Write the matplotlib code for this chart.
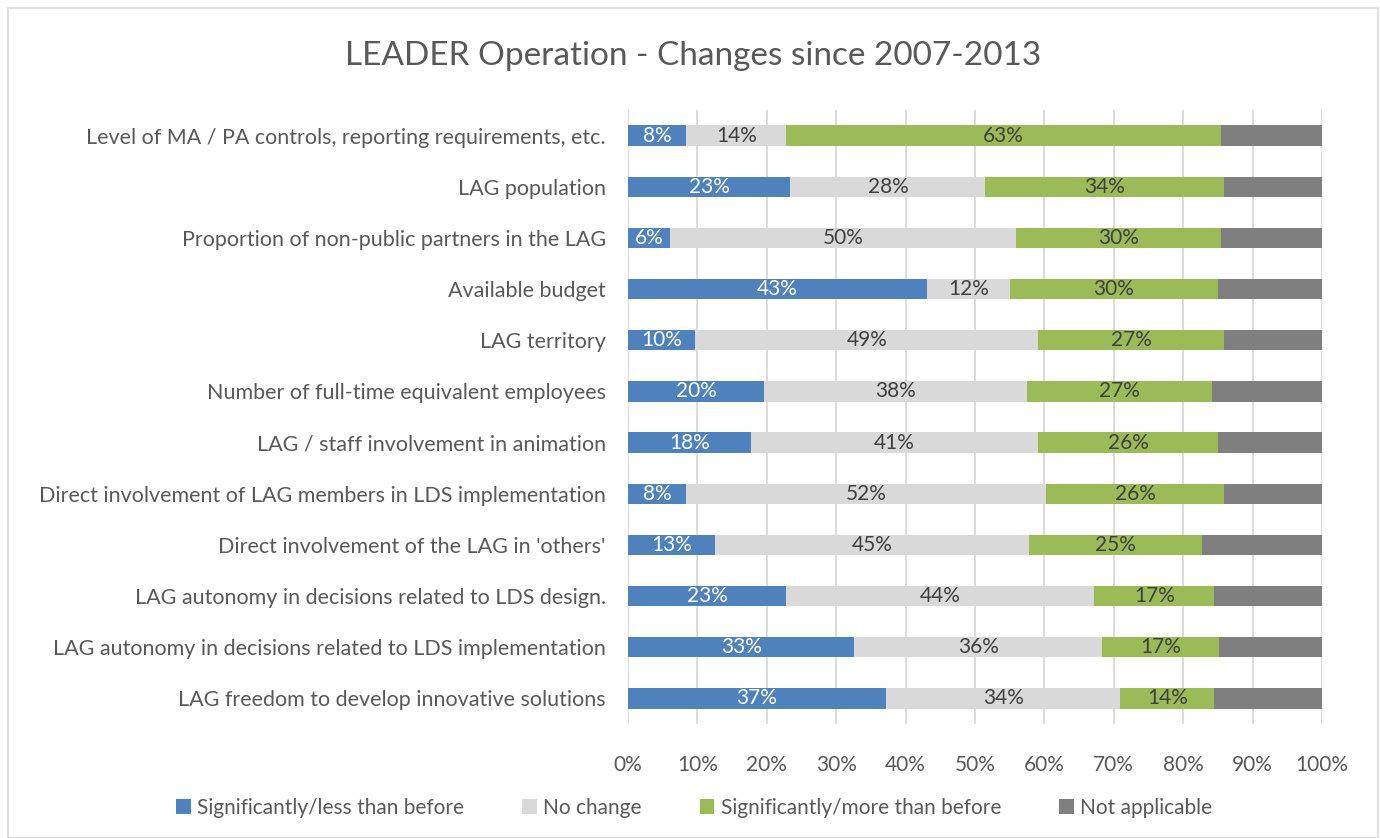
import numpy as np
import matplotlib.pyplot as plt
from matplotlib.patches import Rectangle

plt.rcParams['font.family'] = ['Lato', 'DejaVu Sans']

categories = [
    'Level of MA / PA controls, reporting requirements, etc.',
    'LAG population',
    'Proportion of non-public partners in the LAG',
    'Available budget',
    'LAG territory',
    'Number of full-time equivalent employees',
    'LAG / staff involvement in animation',
    'Direct involvement of LAG members in LDS implementation',
    "Direct involvement of the LAG in 'others'",
    'LAG autonomy in decisions related to LDS design.',
    'LAG autonomy in decisions related to LDS implementation',
    'LAG freedom to develop innovative solutions',
]
less = [8.4, 23.4, 6.1, 43.1, 9.7, 19.6, 17.7, 8.4, 12.6, 22.8, 32.6, 37.2]
nochange = [14.4, 28.1, 49.8, 11.9, 49.4, 37.9, 41.4, 51.9, 45.2, 44.4, 35.7, 33.7]
more = [62.6, 34.4, 29.6, 30.0, 26.8, 26.6, 25.9, 25.6, 24.9, 17.3, 16.9, 13.6]
notapp = [100 - a - b - c for a, b, c in zip(less, nochange, more)]

series = [
    ('Significantly/less than before', less, '#4F81BD', 'white'),
    ('No change', nochange, '#D9D9D9', '#404040'),
    ('Significantly/more than before', more, '#9BBB59', '#404040'),
    ('Not applicable', notapp, '#7F7F7F', None),
]

fig = plt.figure(figsize=(13.8, 8.38), dpi=100)
ax = fig.add_axes([628/1380, 1 - 724/838, 694/1380, 614/838])

y = np.arange(len(categories))
left = np.zeros(len(categories))
for name, vals, col, tcol in series:
    vals = np.array(vals)
    ax.barh(y, vals, left=left, height=0.4, color=col, label=name, zorder=3)
    if tcol is not None:
        for yi, l, v in zip(y, left, vals):
            ax.text(l + v / 2, yi, '{:.0f}%'.format(v), ha='center', va='center',
                    color=tcol, fontsize=15, zorder=4)
    left += vals

ax.set_xlim(0, 100)
ax.set_ylim(len(categories) - 0.5, -0.5)
ax.set_yticks(y)
ax.set_yticklabels(categories, fontsize=15.5, color='#595959')
ax.set_xticks(np.arange(0, 101, 10))
ax.set_xticklabels(['{}%'.format(t) for t in range(0, 101, 10)], fontsize=15, color='#595959')
ax.tick_params(axis='y', length=0, pad=16)
ax.tick_params(axis='x', length=0, pad=22)
ax.grid(axis='x', color='#D9D9D9', linewidth=1.3, zorder=0)
for s in ax.spines.values():
    s.set_visible(False)

fig.text(0.502, 0.933, 'LEADER Operation - Changes since 2007-2013', ha='center', va='center',
         fontsize=24, color='#595959')

handles, labels = ax.get_legend_handles_labels()
fig.legend(handles, labels, loc='center', bbox_to_anchor=(0.503, 0.036), ncol=4, frameon=False,
           fontsize=15, labelcolor='#595959', handlelength=0.7, handleheight=0.7,
           handletextpad=0.3, columnspacing=2.8)

fig.patches.append(Rectangle((8/1380, 0), 1 - 10/1380, 1 - 8/838, transform=fig.transFigure,
                             fill=False, edgecolor='#D9D9D9', linewidth=1.2))

plt.savefig('out.png', dpi=100)
